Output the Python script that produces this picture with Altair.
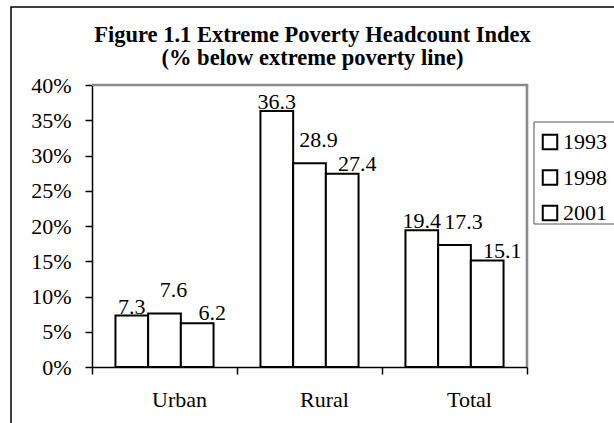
import altair as alt
import pandas as pd

categories = ["Urban", "Rural", "Total"]
years = ["1993", "1998", "2001"]
values_1993 = [7.3, 36.3, 19.4]
values_1998 = [7.6, 28.9, 17.3]
values_2001 = [6.2, 27.4, 15.1]
y_ticks = [0, 0.05, 0.10, 0.15, 0.20, 0.25, 0.30, 0.35, 0.40]

rows = []
for yr, vals in zip(years, [values_1993, values_1998, values_2001]):
    for c, v in zip(categories, vals):
        rows.append({"area": c, "year": yr, "value": v / 100.0, "label": f"{v:.1f}"})
df = pd.DataFrame(rows)

FONT = "Liberation Serif"
W, H = 435, 282

x_enc = alt.X("area:N", sort=categories, title=None,
              scale=alt.Scale(paddingInner=0, paddingOuter=0),
              axis=alt.Axis(labelAngle=0, bandPosition=1, tickExtra=True,
                            labelFont=FONT, labelFontSize=22, labelColor="black",
                            labelPadding=15, labelOffset=15, tickSize=7,
                            tickColor="black", domainColor="black",
                            domainWidth=1.5, tickWidth=1.5))
xoff = alt.XOffset("year:N", sort=years,
                   scale=alt.Scale(paddingInner=0, paddingOuter=0.717))
y_enc = alt.Y("value:Q", title=None,
              scale=alt.Scale(domain=[0, 0.4], nice=False),
              axis=alt.Axis(values=y_ticks, format=".0%", labelFont=FONT,
                            labelFontSize=22, labelColor="black", labelPadding=14,
                            labelOverlap=False, labelFlush=False,
                            tickSize=7, tickColor="black", domainColor="black",
                            domainWidth=1.5, tickWidth=1.5, grid=False))

base = alt.Chart(df)

bars = base.mark_bar(stroke="black", strokeWidth=2).encode(
    x=x_enc, xOffset=xoff, y=y_enc,
    color=alt.Color("year:N", sort=years,
                    scale=alt.Scale(domain=years, range=["white", "white", "white"]),
                    legend=alt.Legend(title=None, orient="none", legendX=447, legendY=46,
                                      labelFont=FONT, labelFontSize=22, labelColor="black",
                                      symbolType="square", symbolSize=210,
                                      symbolStrokeColor="black", symbolStrokeWidth=2,
                                      rowPadding=11.5, labelOffset=2, padding=0)),
)

label_offsets = {"1993": (0, -2), "1998": (9, -16), "2001": (15, -3)}
texts = []
for yr in years:
    dx, dy = label_offsets[yr]
    texts.append(
        base.transform_filter(alt.datum.year == yr).mark_text(
            font=FONT, fontSize=22, color="black", baseline="alphabetic",
            align="center", dx=dx, dy=dy
        ).encode(x=x_enc, xOffset=xoff, y=y_enc, text="label:N")
    )

deco = alt.Data(values=[{"k": 1}])
outer = alt.Chart(deco).mark_rect(fillOpacity=0, stroke="black", strokeWidth=1.5).encode(
    x=alt.value(-81), x2=alt.value(700), y=alt.value(-78), y2=alt.value(600))
legend_box = alt.Chart(deco).mark_rect(fillOpacity=0, stroke="#555555", strokeWidth=1).encode(
    x=alt.value(442), x2=alt.value(700), y=alt.value(37), y2=alt.value(139))
border_top = alt.Chart(deco).mark_rule(stroke="#8a8a8a", strokeWidth=2.6).encode(
    x=alt.value(0), x2=alt.value(W + 1.3), y=alt.value(0))
border_right = alt.Chart(deco).mark_rule(stroke="#8a8a8a", strokeWidth=2.6).encode(
    x=alt.value(W), y=alt.value(0), y2=alt.value(H))

chart = alt.layer(outer, legend_box, border_top, border_right, bars, *texts).properties(
    width=W, height=H,
    autosize=alt.AutoSizeParams(type="none"),
    padding={"left": 92, "top": 85, "right": 87, "bottom": 56},
    title=alt.TitleParams(
        text=["Figure 1.1 Extreme Poverty Headcount Index", "(% below extreme poverty line)"],
        font=FONT, fontSize=22.5, fontWeight="bold", color="black",
        lineHeight=23, anchor="middle", offset=-63, dx=3),
).configure_view(strokeWidth=0).configure(background="white")

chart.save("out.html", embed_options={"renderer": "svg", "actions": False})
